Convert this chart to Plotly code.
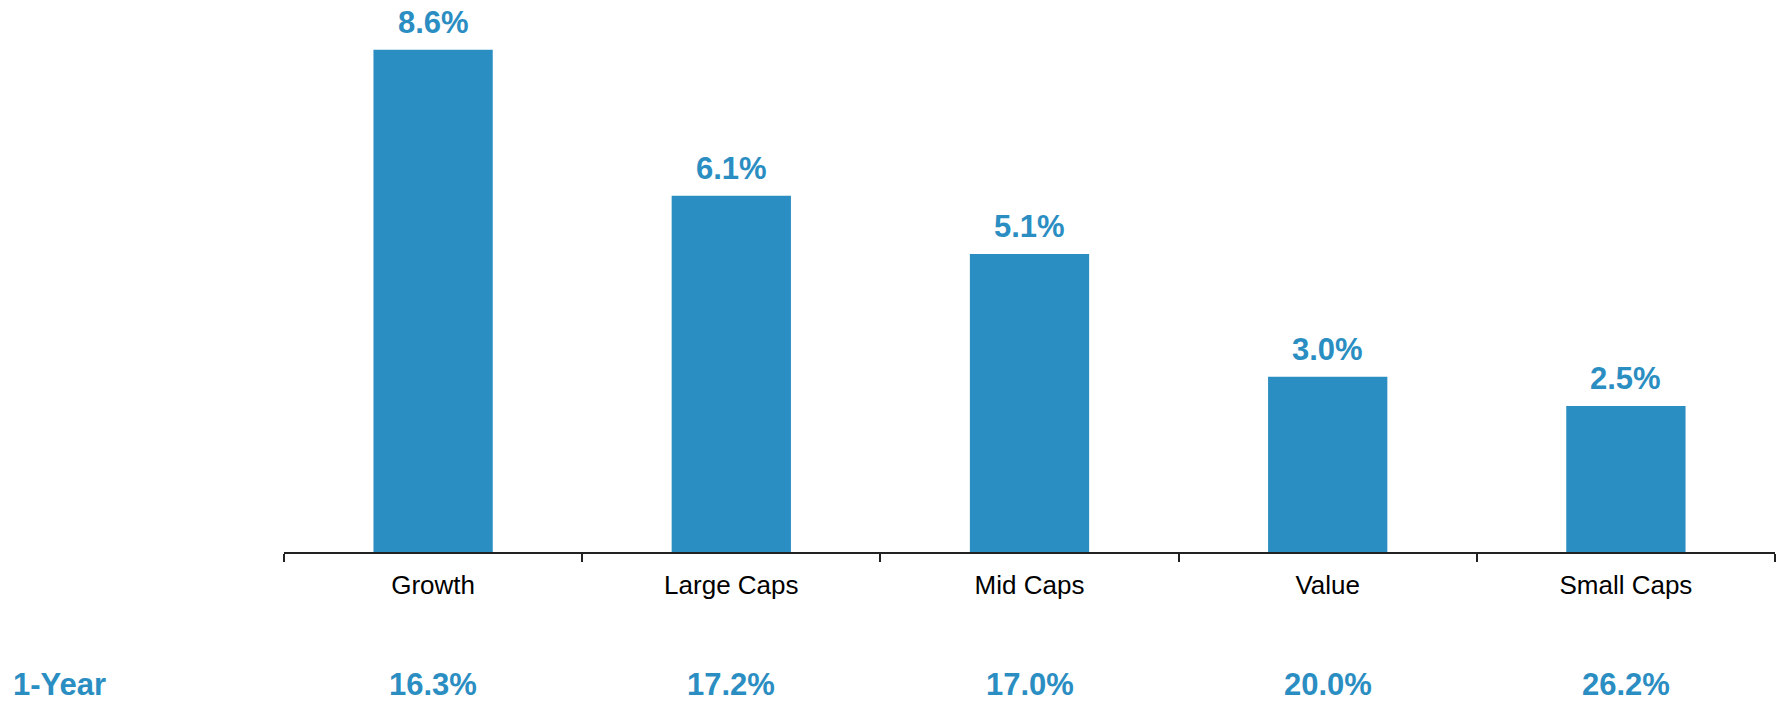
import plotly.graph_objects as go

# Style segments and their returns
categories = ["Growth", "Large Caps", "Mid Caps", "Value", "Small Caps"]
returns = [8.6, 6.1, 5.1, 3.0, 2.5]
one_year = [16.3, 17.2, 17.0, 20.0, 26.2]
row_label = "1-Year"

BLUE = "#2b8ec2"
FONT = "Arial, Liberation Sans, sans-serif"

fig = go.Figure()
fig.add_trace(go.Bar(
    x=categories,
    y=returns,
    marker=dict(color=BLUE, line=dict(width=0)),
    width=0.4,
    hoverinfo="skip",
))

# Value labels above each bar
for cat, val in zip(categories, returns):
    fig.add_annotation(
        x=cat, y=val, xref="x", yref="y",
        text=f"{val:.1f}%",
        showarrow=False,
        yanchor="bottom",
        yshift=8,
        font=dict(family=FONT, size=31, color=BLUE, weight="bold"),
    )

# 1-Year row beneath the axis
ROW_SHIFT = -132
for cat, val in zip(categories, one_year):
    fig.add_annotation(
        x=cat, y=0, xref="x", yref="paper",
        text=f"{val:.1f}%",
        showarrow=False,
        yanchor="middle",
        yshift=ROW_SHIFT,
        font=dict(family=FONT, size=31, color=BLUE, weight="bold"),
    )
fig.add_annotation(
    x=0, y=0, xref="paper", yref="paper",
    text=row_label,
    showarrow=False,
    xanchor="left",
    yanchor="middle",
    xshift=-273,
    yshift=ROW_SHIFT,
    font=dict(family=FONT, size=31, color=BLUE, weight="bold"),
)

fig.update_layout(
    width=1781,
    height=702,
    margin=dict(l=284, r=6, t=0, b=150),
    paper_bgcolor="white",
    plot_bgcolor="white",
    showlegend=False,
    font=dict(family=FONT),
)
fig.update_xaxes(
    showline=True,
    linecolor="#222222",
    linewidth=1.5,
    ticks="outside",
    tickson="boundaries",
    ticklen=8,
    tickwidth=1.5,
    tickcolor="#222222",
    tickfont=dict(family=FONT, size=26, color="black"),
    showgrid=False,
    ticklabelstandoff=9,
)
fig.update_yaxes(
    range=[0, 9.45],
    visible=False,
    showgrid=False,
    zeroline=False,
)

fig.write_html("out.html")
